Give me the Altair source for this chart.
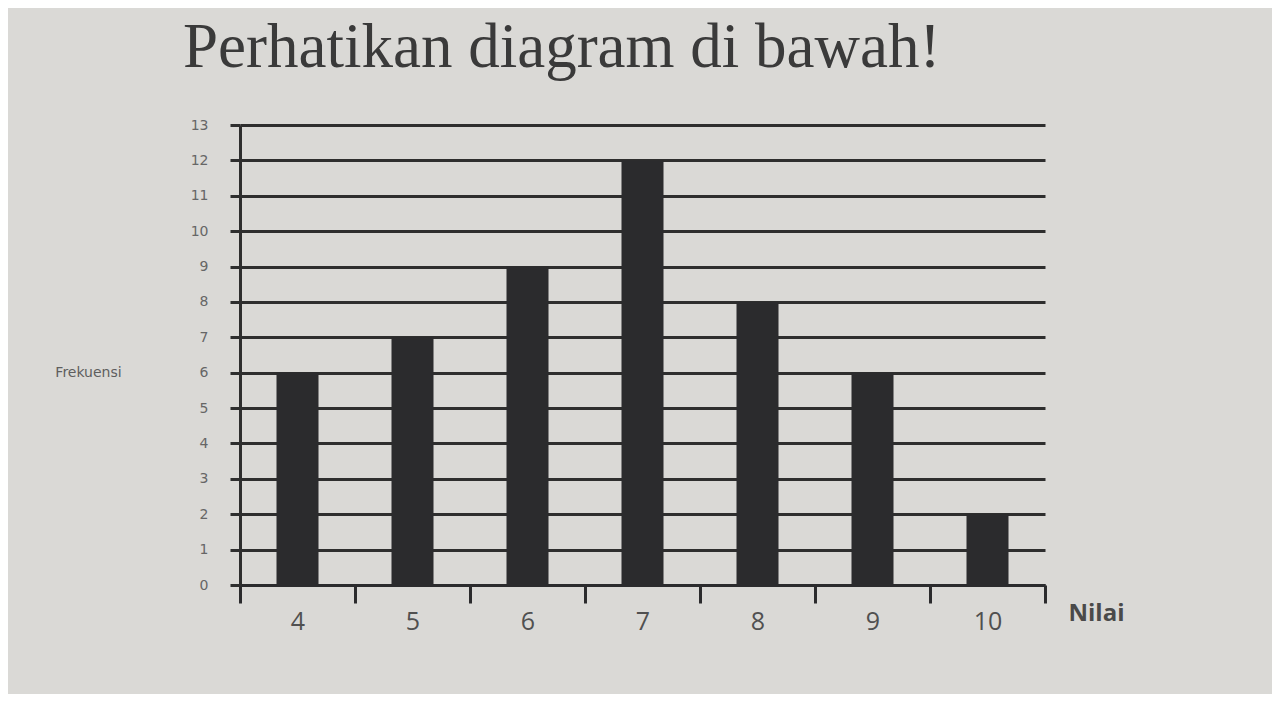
import altair as alt
import pandas as pd

nilai = ["4", "5", "6", "7", "8", "9", "10"]
frekuensi = [6, 7, 9, 12, 8, 6, 2]
y_ticks = list(range(0, 14))

df = pd.DataFrame({"Nilai": nilai, "Frekuensi": frekuensi})

chart = alt.Chart(df).mark_bar(width=42, color="#2b2b2d").encode(
    x=alt.X("Nilai:N", sort=nilai,
            scale=alt.Scale(paddingInner=0, paddingOuter=0),
            axis=alt.Axis(title="Nilai", labelAngle=0, tickBand="extent",
                          ticks=True, tickSize=18, tickWidth=3, tickColor="#2b2b2d",
                          domainColor="#2b2b2d", domainWidth=3,
                          labelFont="Open Sans", labelFontSize=25, labelColor="#505050",
                          labelPadding=6, grid=False,
                          titleFont="Open Sans", titleFontSize=24, titleFontWeight="bold",
                          titleColor="#4a4a4a", titleAngle=0, titleAlign="left",
                          titleBaseline="middle",
                          titleX=828, titleY=28)),
    y=alt.Y("Frekuensi:Q", scale=alt.Scale(domain=[0, 13], nice=False),
            axis=alt.Axis(title="Frekuensi", values=y_ticks, grid=True,
                          gridColor="#2e2e2e", gridWidth=3, gridOpacity=1,
                          tickSize=10, tickWidth=3, tickColor="#2e2e2e",
                          domainColor="#2e2e2e", domainWidth=3,
                          labelFont="DejaVu Sans", labelFontSize=14, labelColor="#666666",
                          labelPadding=22,
                          titleFont="DejaVu Sans", titleFontSize=14, titleFontWeight="normal",
                          titleColor="#5e5e5e", titleAngle=0, titleAlign="center",
                          titleBaseline="middle", titleX=-152, titleY=247)),
).properties(
    width=805, height=460,
    title=alt.TitleParams("Perhatikan diagram di bawah!", font="Liberation Serif",
                          fontSize=63, fontWeight="normal", color="#3a3a3a",
                          anchor="start", frame="group", dx=-57, offset=38),
    autosize=alt.AutoSizeParams(type="none"),
    padding={"left": 232, "top": 117, "right": 227, "bottom": 109},
    background="#dad9d6",
).configure_view(stroke=None)

chart.save("out.html", embed_options={"renderer": "svg", "actions": False})
